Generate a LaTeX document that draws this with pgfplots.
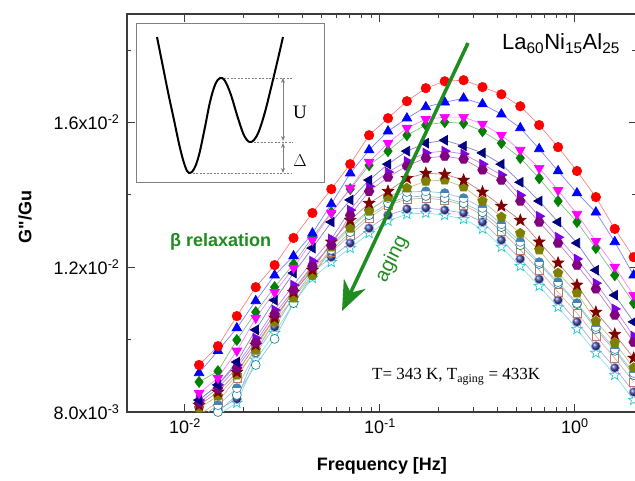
\documentclass[border=0pt]{standalone}
\usepackage{fontspec}
\setmainfont{Liberation Sans}
\newfontfamily\seriffont{Liberation Serif}
\usepackage{pgfplots}
\usepackage{pgfplotstable}
\pgfplotsset{compat=1.18}
\usetikzlibrary{calc,arrows.meta,plotmarks}

\pgfdeclareplotmark{fstar}{%
 \pgfpathmoveto{\pgfpointpolar{90}{\pgfplotmarksize}}%
 \pgfpathlineto{\pgfpointpolar{126}{0.42\pgfplotmarksize}}%
 \pgfpathlineto{\pgfpointpolar{162}{\pgfplotmarksize}}%
 \pgfpathlineto{\pgfpointpolar{198}{0.42\pgfplotmarksize}}%
 \pgfpathlineto{\pgfpointpolar{234}{\pgfplotmarksize}}%
 \pgfpathlineto{\pgfpointpolar{270}{0.42\pgfplotmarksize}}%
 \pgfpathlineto{\pgfpointpolar{306}{\pgfplotmarksize}}%
 \pgfpathlineto{\pgfpointpolar{342}{0.42\pgfplotmarksize}}%
 \pgfpathlineto{\pgfpointpolar{18}{\pgfplotmarksize}}%
 \pgfpathlineto{\pgfpointpolar{54}{0.42\pgfplotmarksize}}%
 \pgfpathclose\pgfusepathqfillstroke}
\pgfdeclareplotmark{hexagon*}{%
 \pgfpathmoveto{\pgfpointpolar{0}{\pgfplotmarksize}}%
 \pgfpathlineto{\pgfpointpolar{60}{\pgfplotmarksize}}%
 \pgfpathlineto{\pgfpointpolar{120}{\pgfplotmarksize}}%
 \pgfpathlineto{\pgfpointpolar{180}{\pgfplotmarksize}}%
 \pgfpathlineto{\pgfpointpolar{240}{\pgfplotmarksize}}%
 \pgfpathlineto{\pgfpointpolar{300}{\pgfplotmarksize}}%
 \pgfpathclose\pgfusepathqfillstroke}

\definecolor{cR}{RGB}{255,0,0}
\definecolor{cB}{RGB}{0,0,255}
\definecolor{cM}{RGB}{255,0,255}
\definecolor{cG}{RGB}{0,128,0}
\definecolor{cN}{RGB}{0,0,128}
\definecolor{cP}{RGB}{128,0,128}
\definecolor{cV}{RGB}{128,0,230}
\definecolor{cS}{RGB}{128,0,0}
\definecolor{cO}{RGB}{128,128,0}
\definecolor{cA}{RGB}{70,130,180}
\definecolor{cC}{RGB}{0,128,128}
\definecolor{cQ}{RGB}{190,120,100}
\definecolor{cE}{RGB}{60,70,170}
\definecolor{cF}{RGB}{40,200,210}
\definecolor{agegreen}{RGB}{30,140,30}
\definecolor{axgray}{RGB}{60,60,60}

% values of G''/Gu in units of 1e-3
\pgfplotstableread{
f       r     b     m     g     n     p     v     s     o     A     C     B     E     F
0.01181 9.30  9.08  8.52  8.83  8.33  8.25  8.33  8.19  8.11  7.83  7.78  7.92  7.78  7.64
0.01476 9.82  9.69  8.94  9.13  8.75  8.66  8.75  8.55  8.44  8.19  8.00  8.28  8.06  7.92
0.01845 10.65 10.32 9.69  9.99  9.38  9.22  9.30  9.10  9.02  8.66  8.47  8.94  8.36  8.25
0.02306 11.45 11.07 10.60 10.76 10.27 9.93  10.04 9.85  9.71  9.66  9.30  9.77  9.63  9.44
0.02882 12.06 11.78 11.31 11.45 11.09 10.71 10.82 10.60 10.49 10.49 10.02 10.60 10.35 10.18
0.03603 12.81 12.31 11.98 12.09 11.84 11.37 11.51 11.31 11.15 11.37 11.01 11.31 11.18 11.01
0.04504 13.50 12.94 12.75 12.83 12.53 12.03 12.17 11.92 11.78 12.06 11.78 11.98 11.87 11.70
0.05629 14.16 13.75 13.50 13.52 13.25 12.61 12.78 12.70 12.56 12.61 12.48 12.42 12.28 12.14
0.07037 14.85 14.60 14.19 14.16 13.86 13.44 13.58 13.30 13.08 13.14 12.97 12.89 12.67 12.53
0.08796 15.65 15.24 14.91 14.82 14.41 14.10 14.24 13.77 13.55 13.58 13.44 13.36 13.08 12.94
0.10995 16.12 15.76 15.43 15.21 14.85 14.49 14.63 14.10 13.94 13.91 13.77 13.72 13.44 13.28
0.13744 16.59 16.12 15.85 15.65 15.21 14.80 14.93 14.46 14.19 14.08 13.94 13.88 13.61 13.47
0.17180 16.95 16.43 16.09 15.93 15.43 15.02 15.16 14.60 14.38 14.10 13.97 13.91 13.64 13.50
0.21475 17.14 16.56 16.15 16.01 15.51 15.07 15.21 14.57 14.41 14.05 13.91 13.86 13.58 13.44
0.26844 17.17 16.67 16.15 15.98 15.35 14.99 15.13 14.41 14.22 13.91 13.77 13.72 13.50 13.33
0.33554 16.98 16.51 15.96 15.76 15.16 14.69 14.85 14.08 13.83 13.64 13.52 13.44 13.25 13.06
0.41943 16.78 16.23 15.65 15.43 14.85 14.41 14.55 13.69 13.39 13.19 13.11 13.00 12.75 12.56
0.52429 16.45 15.85 15.24 15.02 14.35 13.83 13.99 13.30 12.94 12.70 12.61 12.48 12.23 12.03
0.65536 15.93 15.27 14.74 14.46 13.83 13.25 13.41 12.70 12.48 12.14 12.09 11.92 11.67 11.48
0.81920 15.32 14.66 14.13 13.83 13.25 12.67 12.83 12.12 11.84 11.59 11.54 11.31 11.09 10.90
1.02400 14.66 14.05 13.47 13.25 12.67 12.06 12.23 11.51 11.29 11.01 10.98 10.73 10.49 10.29
1.28000 13.94 13.52 12.72 12.53 11.92 11.40 11.56 10.76 10.51 10.35 10.29 10.10 9.82  9.63
1.60000 13.06 12.70 12.01 11.78 11.23 10.68 10.85 10.15 9.91  9.74  9.69  9.49  9.22  9.02
2.00000 12.28 11.78 11.23 11.01 10.49 9.93  10.10 9.49  9.22  9.08  9.02  8.83  8.55  8.33
}\data

\begin{document}
\begin{tikzpicture}
\begin{axis}[
  xmode=log,
  scale only axis,
  width=510pt, height=398pt,
  xmin=0.005042, xmax=2.080,
  ymin=8, ymax=19,
  axis line style={axgray, line width=1.3pt},
  tick style={axgray, line width=1pt},
  major tick length=8pt, minor tick length=4.5pt,
  xtick={0.01,0.1,1},
  xticklabels={10\textsuperscript{-2},10\textsuperscript{-1},10\textsuperscript{0}},
  ytick={8,12,16},
  minor ytick={10,14,18},
  yticklabels={8.0x10\textsuperscript{-3},1.2x10\textsuperscript{-2},1.6x10\textsuperscript{-2}},
  ticklabel style={font=\fontsize{18}{20}\selectfont},
  yticklabel style={xshift=-4pt},
  xticklabel style={yshift=-3pt},
  xlabel={Frequency [Hz]},
  ylabel={G\textquotedbl/Gu},
  label style={font=\fontsize{18}{20}\selectfont\bfseries},
  xlabel style={at={(axis description cs:0.5,-0.1357)}, anchor=center},
  ylabel style={at={(axis description cs:-0.2,0.49)}, anchor=center},
  every axis plot/.append style={line width=0.7pt},
]
\addplot[color=cF!55!white, mark=fstar, mark size=5.5pt, mark options={draw=cF, fill=white, line width=0.7pt}] table[x=f,y=F]{\data};
\addplot[color=cE!45!white, mark=ball, mark size=4.6pt, mark options={ball color=cE, draw=none}] table[x=f,y=E]{\data};
\addplot[color=cQ!60!white, mark=square, mark size=4pt, mark options={draw=cQ, line width=0.6pt}] table[x=f,y=B]{\data};
\addplot[color=cC!45!white, mark=*, mark size=4.5pt, mark options={draw=cC, fill=white, line width=0.6pt}] table[x=f,y=C]{\data};
\addplot[color=cA!50!white, mark=halfcircle*, mark size=4.5pt, mark options={draw=cA, fill=cA, line width=0.6pt}] table[x=f,y=A]{\data};
\addplot[color=cO!50!white, mark=pentagon*, mark size=5pt, mark options={draw=cO, fill=cO}] table[x=f,y=o]{\data};
\addplot[color=cS!50!white, mark=fstar, mark size=6pt, mark options={draw=cS, fill=cS}] table[x=f,y=s]{\data};
\addplot[color=cV!50!white, mark=triangle*, mark size=5.5pt, mark options={draw=cV, fill=cV, rotate=270}] table[x=f,y=v]{\data};
\addplot[color=cP!50!white, mark=hexagon*, mark size=4.8pt, mark options={draw=cP, fill=cP}] table[x=f,y=p]{\data};
\addplot[color=cN!50!white, mark=triangle*, mark size=5.5pt, mark options={draw=cN, fill=cN, rotate=90}] table[x=f,y=n]{\data};
\addplot[color=cG!50!white, mark=diamond*, mark size=5.5pt, mark options={draw=cG, fill=cG}] table[x=f,y=g]{\data};
\addplot[color=cM!50!white, mark=triangle*, mark size=5.5pt, mark options={draw=cM, fill=cM, rotate=180}] table[x=f,y=m]{\data};
\addplot[color=cB!50!white, mark=triangle*, mark size=5.5pt, mark options={draw=cB, fill=cB}] table[x=f,y=b]{\data};
\addplot[color=cR!50!white, mark=*, mark size=4.7pt, mark options={draw=cR, fill=cR}] table[x=f,y=r]{\data};
\coordinate (SW) at (rel axis cs:0,0);
\end{axis}

\begin{scope}[shift={($(SW)+(-127pt,398pt)$)}, x=1pt, y=-1pt, shift={(0,-14)}]
  % inset
  \draw[gray, line width=1pt, fill=white] (136,24) rectangle (324,183);
  \draw[gray, line width=0.6pt, dash pattern=on 2pt off 1.5pt] (220,78) -- (293,78);
  \draw[gray, line width=0.6pt, dash pattern=on 2pt off 1.5pt] (250,142) -- (293,142);
  \draw[gray, line width=0.6pt, dash pattern=on 2pt off 1.5pt] (189,173) -- (292,173);
  \draw[gray, line width=0.7pt, {Stealth[length=5pt,width=4pt]}-{Stealth[length=5pt,width=4pt]}] (283,78) -- (283,141);
  \draw[gray, line width=0.7pt, {Stealth[length=5pt,width=4pt]}-{Stealth[length=5pt,width=4pt]}] (283,143) -- (283,173);
  \draw[black, line width=2pt, smooth, tension=0.6] plot coordinates {(157,37) (162,62) (168,92) (174,120) (180,148) (185,166) (189,173) (194,169) (199,155) (205,127) (210,102) (215,85) (220,78) (225,81) (231,95) (237,115) (243,133) (247,140) (250,142) (254,140) (259,131) (265,112) (271,88) (277,63) (283,37)};
  \node[font=\seriffont\fontsize{19}{20}\selectfont, anchor=center] at (300,112) {U};
  \node[font=\seriffont\fontsize{19}{20}\selectfont, anchor=center] at (300,161) {$\Delta$};
  % texts
  \node[anchor=base west, inner sep=0pt, font=\fontsize{22}{24}\selectfont] at (502,50) {La\textsubscript{60}Ni\textsubscript{15}Al\textsubscript{25}};
  \node[anchor=west, inner sep=0pt, font=\fontsize{18}{20}\selectfont\bfseries, text=agegreen] at (170,242) {β relaxation};
  \node[anchor=base west, inner sep=0pt, font=\seriffont\fontsize{17}{20}\selectfont] at (372,380) {T= 343 K, T\textsubscript{aging} = 433K};
  % aging arrow
  \draw[agegreen, line width=3.5pt, -{Stealth[length=30pt,width=24pt]}] (468,43) -- (342,311);
  \node[rotate=63, inner sep=0pt, text=agegreen, font=\fontsize{20}{22}\selectfont] at (392,259) {aging};
\end{scope}
\pgfresetboundingbox
\begin{scope}[shift={($(SW)+(-127pt,398pt)$)}, x=1pt, y=-1pt, shift={(0,-14)}]
  \useasboundingbox (0,0) rectangle (635,481);
\end{scope}
\end{tikzpicture}
\end{document}
